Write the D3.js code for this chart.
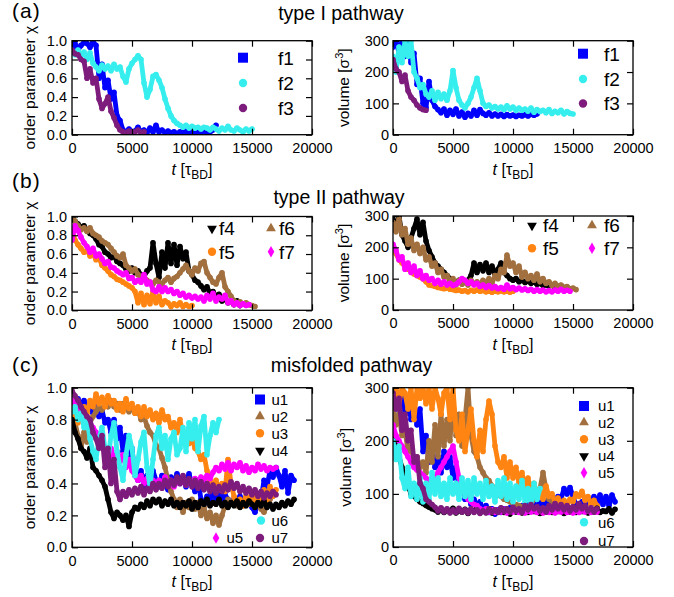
<!DOCTYPE html>
<html>
<head>
<meta charset="utf-8">
<script src="https://cdn.jsdelivr.net/npm/d3@7"></script>
<style>
body { margin: 0; background: #fff; }
text { font-family: "Liberation Sans", Arial, Helvetica, sans-serif; fill: #000; }
</style>
</head>
<body>
<svg id="fig" width="674" height="597"></svg>
<script>
// time between two stored samples, in tau_BD
const STEP = 250;
const xTicks = [0, 5000, 10000, 15000, 20000];
const chiTicks = [0, 0.2, 0.4, 0.6, 0.8, 1.0];
const volTicks = [0, 100, 200, 300];

// (a) type I pathway
const f1Chi = [0.92,0.97,0.9,0.95,0.98,0.97,0.93,0.99,0.95,0.6,
  0.75,0.5,0.58,0.38,0.45,0.2,0.15,0.05,0.03,0.06,
  0.02,0.04,0.08,0.03,0.05,0.02,0.07,0.03,0.1,0.03,
  0.05,0.02,0.04,0.02,0.03,0.01,0.03,0.02,0.04,0.02,
  0.03,0.01,0.03,0.02,0.04,0.02,0.03,0.05,0.1];
const f2Chi = [0.88,0.85,0.9,0.84,0.88,0.8,0.87,0.76,0.72,0.68,
  0.74,0.7,0.73,0.68,0.75,0.7,0.72,0.62,0.56,0.7,
  0.76,0.8,0.84,0.8,0.55,0.4,0.48,0.62,0.64,0.58,
  0.5,0.38,0.28,0.2,0.15,0.12,0.1,0.08,0.1,0.07,
  0.09,0.07,0.08,0.06,0.08,0.07,0.05,0.08,0.06,0.04,
  0.07,0.05,0.09,0.05,0.04,0.07,0.05,0.03,0.06,0.04,
  0.06];
const f3Chi = [0.9,0.86,0.85,0.8,0.78,0.6,0.7,0.55,0.6,0.38,
  0.28,0.33,0.4,0.25,0.18,0.1,0.05,0.03,0.02,0.04,
  0.02,0.03,0.05,0.02,0.03];
const f1Vol = [280,300,260,300,250,290,230,260,160,180,
  100,85,170,110,90,80,70,82,62,78,
  65,82,60,72,56,68,60,78,62,80,
  68,62,70,60,66,60,65,58,64,60,
  63,58,62,60,64,60,65,62,66];
const f2Vol = [250,200,280,230,300,250,300,200,180,150,
  160,130,120,140,110,135,115,130,110,140,
  205,150,110,95,85,100,120,150,180,140,
  100,90,95,85,90,82,88,80,92,82,
  88,78,85,78,82,75,85,72,80,74,
  78,70,80,68,75,70,78,66,74,68,
  66];
const f3Vol = [240,210,200,170,190,140,120,110,95,85,80,78];

// (b) type II pathway
const f4Chi = [1.0,0.95,0.92,0.88,0.9,0.85,0.82,0.8,0.76,0.7,
  0.68,0.62,0.6,0.56,0.58,0.52,0.5,0.48,0.44,0.42,
  0.45,0.4,0.42,0.38,0.36,0.42,0.45,0.72,0.5,0.35,
  0.62,0.45,0.72,0.5,0.7,0.48,0.68,0.55,0.62,0.42,
  0.38,0.32,0.3,0.26,0.22,0.25,0.18,0.2,0.15,0.17,
  0.1,0.12,0.08,0.1,0.06,0.1,0.05];
const f5Chi = [0.85,0.75,0.7,0.66,0.62,0.64,0.58,0.6,0.54,0.56,
  0.48,0.45,0.42,0.38,0.36,0.33,0.32,0.3,0.28,0.26,
  0.24,0.2,0.08,0.18,0.06,0.16,0.07,0.2,0.08,0.15,
  0.06,0.1,0.08,0.04,0.07,0.05,0.08,0.04,0.06,0.04,
  0.05];
const f6Chi = [1.0,0.95,0.9,0.86,0.88,0.84,0.88,0.82,0.8,0.78,
  0.74,0.72,0.7,0.66,0.62,0.58,0.56,0.6,0.48,0.45,
  0.42,0.44,0.38,0.36,0.35,0.32,0.3,0.28,0.32,0.3,
  0.28,0.32,0.35,0.3,0.34,0.36,0.4,0.44,0.48,0.42,
  0.38,0.45,0.42,0.5,0.52,0.4,0.35,0.3,0.28,0.35,
  0.4,0.25,0.2,0.15,0.1,0.08,0.09,0.07,0.08,0.06,
  0.05,0.04];
const f7Chi = [0.75,0.9,0.85,0.78,0.72,0.68,0.62,0.66,0.58,0.6,
  0.55,0.5,0.52,0.46,0.45,0.42,0.4,0.38,0.4,0.34,
  0.35,0.3,0.32,0.3,0.38,0.28,0.3,0.22,0.2,0.25,
  0.2,0.24,0.2,0.22,0.18,0.2,0.16,0.18,0.14,0.16,
  0.13,0.15,0.12,0.14,0.1,0.16,0.12,0.18,0.1,0.14,
  0.12,0.16,0.08,0.1,0.06,0.08,0.05,0.07,0.05,0.06];
const f4Vol = [290,260,300,240,220,200,230,260,290,240,
  280,220,190,170,150,140,130,120,110,100,
  90,85,95,88,90,95,110,150,120,145,
  125,150,120,140,115,130,150,120,110,100,
  95,100,90,95,88,92,85,90,82,85,
  78,80,75,80,72,75,70];
const f5Vol = [200,180,160,150,140,130,125,115,110,105,
  100,90,80,78,75,72,70,68,70,66,
  65,62,64,60,62,58,63,60,64,60,
  62,58,60,57,60,58,61,58,60,57,
  60];
const f6Vol = [280,250,290,240,260,210,230,190,210,180,
  200,160,170,140,150,120,130,105,110,90,
  100,80,95,82,90,80,95,82,90,80,
  95,85,100,85,110,100,130,120,175,140,
  150,120,140,105,120,100,110,95,115,90,
  100,85,90,78,85,75,80,72,75,68,
  70,65];
const f7Vol = [210,190,160,170,130,150,120,140,110,125,
  100,110,95,100,85,95,82,90,80,85,
  78,82,90,100,95,85,90,80,85,75,
  80,72,78,70,75,68,72,66,80,68,
  72,65,70,64,68,62,66,60,65,60,
  64,58,62,58,64,60,66,60,63,60];

// (c) misfolded pathway
const u1Chi = [0.95,0.9,0.93,0.88,0.92,0.86,0.9,0.84,0.88,0.82,
  0.86,0.78,0.8,0.72,0.8,0.68,0.75,0.6,0.7,0.52,
  0.62,0.45,0.42,0.48,0.38,0.45,0.4,0.48,0.42,0.38,
  0.45,0.4,0.36,0.44,0.4,0.46,0.4,0.44,0.38,0.46,
  0.4,0.35,0.42,0.3,0.27,0.32,0.3,0.35,0.3,0.34,
  0.29,0.33,0.3,0.27,0.3,0.28,0.32,0.27,0.3,0.28,
  0.25,0.22,0.28,0.3,0.42,0.38,0.48,0.44,0.5,0.45,
  0.38,0.48,0.34,0.45,0.42];
const u2Chi = [0.9,0.78,0.7,0.62,0.72,0.66,0.78,0.82,0.85,0.88,
  0.86,0.9,0.88,0.92,0.88,0.9,0.86,0.9,0.88,0.85,
  0.88,0.84,0.86,0.8,0.82,0.76,0.72,0.7,0.64,0.62,
  0.56,0.5,0.42,0.35,0.3,0.25,0.3,0.22,0.28,0.25,
  0.3,0.24,0.28,0.2,0.25,0.18,0.22,0.15,0.2,0.14,
  0.2,0.26,0.3,0.27,0.3,0.26,0.29,0.26,0.3,0.27,
  0.29,0.26,0.28,0.24,0.22,0.26,0.3];
const u3Chi = [0.8,0.82,0.78,0.85,0.88,0.84,0.92,0.88,0.96,0.9,
  0.94,0.88,0.95,0.9,0.92,0.86,0.9,0.85,0.93,0.87,
  0.9,0.84,0.88,0.82,0.88,0.82,0.86,0.8,0.84,0.78,
  0.86,0.8,0.82,0.75,0.78,0.72,0.8,0.7,0.72,0.65,
  0.68,0.62,0.6,0.55,0.58,0.48,0.42,0.38,0.42,0.36,
  0.4,0.35,0.55,0.4,0.32,0.28,0.3,0.26,0.32,0.28,
  0.35,0.3,0.33,0.28,0.36,0.3,0.38,0.32,0.36];
const u4Chi = [0.8,0.72,0.68,0.62,0.6,0.56,0.62,0.5,0.48,0.45,
  0.42,0.38,0.3,0.22,0.18,0.22,0.2,0.17,0.2,0.13,
  0.22,0.25,0.24,0.27,0.25,0.29,0.26,0.3,0.28,0.3,
  0.26,0.29,0.27,0.3,0.26,0.28,0.25,0.28,0.26,0.29,
  0.24,0.28,0.25,0.29,0.27,0.3,0.26,0.28,0.27,0.3,
  0.26,0.28,0.25,0.28,0.26,0.29,0.25,0.28,0.26,0.29,
  0.27,0.25,0.28,0.26,0.29,0.25,0.27,0.24,0.27,0.25,
  0.28,0.26,0.29,0.27,0.3];
const u5Chi = [0.95,0.9,0.88,0.85,0.82,0.8,0.78,0.75,0.72,0.7,
  0.65,0.6,0.58,0.62,0.56,0.6,0.54,0.58,0.5,0.55,
  0.48,0.45,0.42,0.45,0.4,0.43,0.4,0.42,0.38,0.42,
  0.4,0.44,0.4,0.42,0.38,0.41,0.4,0.43,0.39,0.42,
  0.4,0.43,0.4,0.44,0.42,0.45,0.43,0.47,0.5,0.48,
  0.52,0.49,0.53,0.48,0.52,0.5,0.53,0.48,0.51,0.47,
  0.5,0.48,0.52,0.49,0.51,0.48,0.5,0.49,0.5];
const u6Chi = [0.85,0.88,0.8,0.84,0.75,0.8,0.68,0.6,0.55,0.68,
  0.75,0.62,0.55,0.7,0.78,0.6,0.5,0.42,0.58,0.7,
  0.62,0.45,0.55,0.66,0.72,0.5,0.38,0.55,0.7,0.75,
  0.62,0.7,0.55,0.68,0.72,0.58,0.62,0.75,0.6,0.78,
  0.68,0.8,0.6,0.76,0.82,0.58,0.7,0.78,0.72,0.8];
const u7Chi = [0.98,0.95,0.92,0.88,0.85,0.82,0.8,0.72,0.68,0.62,
  0.7,0.5,0.62,0.4,0.55,0.35,0.3,0.35,0.32,0.36,
  0.33,0.37,0.34,0.38,0.33,0.37,0.35,0.4,0.36,0.4,
  0.37,0.42,0.38,0.42,0.39,0.44,0.4,0.45,0.39,0.43,
  0.38,0.42,0.37,0.41,0.36,0.4,0.35,0.39,0.34,0.38,
  0.35,0.39,0.36,0.41,0.37,0.4,0.35,0.38,0.34,0.37,
  0.33,0.36,0.32,0.35,0.31,0.34,0.32,0.35,0.33];
const u1Vol = [240,280,260,290,250,280,240,270,230,260,
  180,210,160,190,150,170,140,180,150,170,
  130,150,110,120,90,100,80,90,75,85,
  70,78,65,72,62,70,65,72,66,74,
  68,75,70,78,72,80,74,82,75,84,
  78,86,80,90,82,95,90,110,100,112,
  95,80,72,85,78,92,80,95,82,98,
  80,95,78,98,85];
const u2Vol = [260,230,250,210,220,180,190,160,170,150,
  160,140,200,160,230,170,250,190,240,200,
  280,210,250,190,240,300,210,180,170,150,
  140,130,125,115,110,100,95,90,88,85,
  82,80,78,76,75,74,80,90,100,110,
  140,110,90,85,80,78,75,74,72,74,
  70,72,70,68,70,68,70];
const u3Vol = [280,300,270,300,290,260,300,240,300,280,
  300,270,300,260,300,280,250,290,300,240,
  300,220,200,250,180,220,260,200,170,220,
  180,240,275,250,190,160,150,170,130,160,
  130,150,120,140,110,130,105,120,95,110,
  90,115,95,100,85,92,80,88,78,90,
  85,100,95,105,88,95,80,88,78];
const u4Vol = [220,190,170,150,130,115,100,95,90,85,
  82,78,75,72,70,66,72,65,70,67,
  73,64,69,66,71,63,70,67,74,65,
  69,66,72,64,68,67,73,65,70,62,
  71,66,69,64,73,65,70,67,72,63,
  69,66,74,65,68,67,71,63,70,66,
  73,65,69,67,72,64,70,66,73,65,
  68,67,72,64,71];
const u5Vol = [230,210,200,190,180,170,160,150,145,140,
  135,130,125,120,130,140,150,160,170,180,
  190,160,130,110,100,90,85,80,78,72,
  68,72,66,70,65,69,66,71,64,68,
  66,70,65,68,64,69,66,70,65,68,
  64,67,65,69,64,68,66,70,65,67,
  64,68,65,69,66,68,65,67,66];
const u6Vol = [200,165,190,130,110,150,95,120,90,130,
  85,120,90,140,100,130,95,120,90,130,
  100,120,90,130,95,125,90,130,100,120,
  90,125,95,115,85,125,95,130,90,120,
  85,115,90,125,85,110,80,120,90,110];
const u7Vol = [290,260,280,220,250,200,220,160,170,120,
  110,90,85,80,75,68,74,66,72,64,
  70,65,73,66,70,64,72,65,70,63,
  68,64,72,66,70,65,74,67,72,66,
  75,68,72,65,78,70,80,72,76,68,
  74,66,78,70,82,72,80,70,78,68,
  76,70,82,72,78,68,74,66,72];

const C = {
  blue: "#0000ff", cyan: "#36eeee", purple: "#7d1c7d",
  black: "#000000", orange: "#ff8412", brown: "#a2703f", magenta: "#ff00ff"
};

const svg = d3.select("#fig");

const symbolOf = {
  square: d3.symbol().type(d3.symbolSquare).size(100),
  circle: d3.symbol().type(d3.symbolCircle).size(55),
  up: d3.symbol().type(d3.symbolTriangle).size(42),
  down: d3.symbol().type(d3.symbolTriangle).size(42),
  diamond: d3.symbol().type(d3.symbolDiamond).size(38)
};

function drawPanel(p, idx) {
  const x = d3.scaleLinear().domain([0, 20000]).range([p.left, p.left + 240]);
  const y = d3.scaleLinear().domain(p.vol ? [0, 300] : [0, 1]).range([p.bottom, p.top]);

  svg.append("clipPath").attr("id", "clip" + idx)
    .append("rect")
    .attr("x", p.left).attr("y", p.top)
    .attr("width", 240).attr("height", p.bottom - p.top);

  const plot = svg.append("g").attr("clip-path", `url(#clip${idx})`);
  const line = d3.line().x((d, i) => x(i * STEP)).y(d => y(d));
  p.series.forEach(s => {
    plot.append("path")
      .datum(s.vals)
      .attr("d", line)
      .attr("fill", "none")
      .attr("stroke", s.color)
      .attr("stroke-width", 4.8)
      .attr("stroke-linejoin", "round")
      .attr("stroke-linecap", "round");
    // sample dots give the band its speckled edge
    plot.append("g").selectAll("circle")
      .data(s.vals)
      .join("circle")
      .attr("cx", (d, i) => x(i * STEP))
      .attr("cy", d => y(d))
      .attr("r", 2.8)
      .attr("fill", s.color);
  });

  const yTicks = p.vol ? volTicks : chiTicks;
  const yFmt = p.vol ? d3.format("d") : d3.format(".1f");

  const ax = svg.append("g").attr("transform", `translate(0,${p.bottom})`)
    .call(d3.axisBottom(x).tickValues(xTicks).tickSizeInner(-6).tickSizeOuter(0).tickPadding(8).tickFormat(d3.format("d")));
  const axTop = svg.append("g").attr("transform", `translate(0,${p.top})`)
    .call(d3.axisTop(x).tickValues(xTicks).tickSizeInner(-6).tickSizeOuter(0).tickFormat(""));
  const ay = svg.append("g").attr("transform", `translate(${p.left},0)`)
    .call(d3.axisLeft(y).tickValues(yTicks).tickSizeInner(-6).tickSizeOuter(0).tickPadding(p.vol ? 4 : 5).tickFormat(yFmt));
  const ayR = svg.append("g").attr("transform", `translate(${p.left + 240},0)`)
    .call(d3.axisRight(y).tickValues(yTicks).tickSizeInner(-6).tickSizeOuter(0).tickFormat(""));

  [ax, axTop, ay, ayR].forEach(g => {
    g.select(".domain").remove();
    g.selectAll(".tick line").attr("stroke", "#000").attr("stroke-width", 1.2);
    g.selectAll(".tick text").attr("font-size", 14.5).attr("font-family", null).attr("fill", "#000");
  });

  svg.append("rect")
    .attr("x", p.left).attr("y", p.top)
    .attr("width", 240).attr("height", p.bottom - p.top)
    .attr("fill", "none").attr("stroke", "#000").attr("stroke-width", 1.3);

  // x axis title
  const xt = svg.append("text")
    .attr("x", p.left + 120).attr("y", p.bottom + 40)
    .attr("text-anchor", "middle").attr("font-size", 16);
  xt.append("tspan").attr("font-style", "italic").text("t");
  xt.append("tspan").text(" [τ");
  xt.append("tspan").attr("font-size", 12).attr("dy", 4).text("BD");
  xt.append("tspan").attr("dy", -4).text("]");

  // y axis title
  const yt = svg.append("text")
    .attr("transform", `translate(${p.ytx},${(p.top + p.bottom) / 2}) rotate(-90)`)
    .attr("text-anchor", "middle").attr("font-size", 15.5);
  if (p.vol) {
    yt.append("tspan").text("volume [σ");
    yt.append("tspan").attr("font-size", 11).attr("dy", -6).text("3");
    yt.append("tspan").attr("dy", 6).text("]");
  } else {
    yt.text("order parameter χ");
  }

  // key
  p.legend.forEach(k => {
    const s = p.series.find(d => d.name === k.name);
    svg.append("path")
      .attr("d", symbolOf[s.shape]())
      .attr("transform", `translate(${k.mx},${k.my})` + (s.shape === "down" ? " rotate(180)" : ""))
      .attr("fill", s.color);
    svg.append("text")
      .attr("x", k.tx).attr("y", k.my).attr("dy", "0.36em")
      .attr("font-size", p.keySize)
      .text(k.name);
  });
}

const panels = [
  { left: 72, top: 40.7, bottom: 134.7, vol: false, ytx: 35, keySize: 19,
    series: [
      { name: "f1", vals: f1Chi, color: C.blue, shape: "square" },
      { name: "f2", vals: f2Chi, color: C.cyan, shape: "circle" },
      { name: "f3", vals: f3Chi, color: C.purple, shape: "circle" }],
    legend: [
      { name: "f1", mx: 243, my: 57.7, tx: 278 },
      { name: "f2", mx: 243, my: 83, tx: 278 },
      { name: "f3", mx: 243, my: 108, tx: 278 }] },
  { left: 393, top: 40.7, bottom: 134.7, vol: true, ytx: 349, keySize: 19,
    series: [
      { name: "f1", vals: f1Vol, color: C.blue, shape: "square" },
      { name: "f2", vals: f2Vol, color: C.cyan, shape: "circle" },
      { name: "f3", vals: f3Vol, color: C.purple, shape: "circle" }],
    legend: [
      { name: "f1", mx: 583, my: 53.7, tx: 604 },
      { name: "f2", mx: 583, my: 79, tx: 604 },
      { name: "f3", mx: 583, my: 103.5, tx: 604 }] },
  { left: 72, top: 216.5, bottom: 310.3, vol: false, ytx: 35, keySize: 19,
    series: [
      { name: "f4", vals: f4Chi, color: C.black, shape: "down" },
      { name: "f5", vals: f5Chi, color: C.orange, shape: "circle" },
      { name: "f6", vals: f6Chi, color: C.brown, shape: "up" },
      { name: "f7", vals: f7Chi, color: C.magenta, shape: "diamond" }],
    legend: [
      { name: "f4", mx: 212, my: 228.5, tx: 219 },
      { name: "f5", mx: 212, my: 251.7, tx: 219 },
      { name: "f6", mx: 271, my: 228.5, tx: 279 },
      { name: "f7", mx: 271, my: 251.7, tx: 279 }] },
  { left: 393, top: 216, bottom: 310, vol: true, ytx: 349, keySize: 19,
    series: [
      { name: "f4", vals: f4Vol, color: C.black, shape: "down" },
      { name: "f5", vals: f5Vol, color: C.orange, shape: "circle" },
      { name: "f6", vals: f6Vol, color: C.brown, shape: "up" },
      { name: "f7", vals: f7Vol, color: C.magenta, shape: "diamond" }],
    legend: [
      { name: "f4", mx: 532, my: 225.5, tx: 543 },
      { name: "f5", mx: 532, my: 248.3, tx: 543 },
      { name: "f6", mx: 592, my: 225.5, tx: 604 },
      { name: "f7", mx: 592, my: 248.3, tx: 604 }] },
  { left: 72, top: 387.7, bottom: 547.3, vol: false, ytx: 35, keySize: 15,
    series: [
      { name: "u1", vals: u1Chi, color: C.blue, shape: "square" },
      { name: "u2", vals: u2Chi, color: C.brown, shape: "up" },
      { name: "u3", vals: u3Chi, color: C.orange, shape: "circle" },
      { name: "u4", vals: u4Chi, color: C.black, shape: "down" },
      { name: "u5", vals: u5Chi, color: C.magenta, shape: "diamond" },
      { name: "u6", vals: u6Chi, color: C.cyan, shape: "circle" },
      { name: "u7", vals: u7Chi, color: C.purple, shape: "circle" }],
    legend: [
      { name: "u1", mx: 260, my: 399.5, tx: 271.5 },
      { name: "u2", mx: 260, my: 416.3, tx: 271.5 },
      { name: "u3", mx: 260, my: 433.3, tx: 271.5 },
      { name: "u4", mx: 260, my: 450.5, tx: 271.5 },
      { name: "u6", mx: 261, my: 520.5, tx: 271.5 },
      { name: "u5", mx: 216, my: 538, tx: 226.5 },
      { name: "u7", mx: 260, my: 538, tx: 271.5 }] },
  { left: 393, top: 387.7, bottom: 547, vol: true, ytx: 351, keySize: 15,
    series: [
      { name: "u1", vals: u1Vol, color: C.blue, shape: "square" },
      { name: "u2", vals: u2Vol, color: C.brown, shape: "up" },
      { name: "u3", vals: u3Vol, color: C.orange, shape: "circle" },
      { name: "u4", vals: u4Vol, color: C.black, shape: "down" },
      { name: "u5", vals: u5Vol, color: C.magenta, shape: "diamond" },
      { name: "u6", vals: u6Vol, color: C.cyan, shape: "circle" },
      { name: "u7", vals: u7Vol, color: C.purple, shape: "circle" }],
    legend: [
      { name: "u1", mx: 584, my: 406, tx: 598 },
      { name: "u2", mx: 584, my: 422.5, tx: 598 },
      { name: "u3", mx: 584, my: 439.3, tx: 598 },
      { name: "u4", mx: 584, my: 456, tx: 598 },
      { name: "u5", mx: 584, my: 472.7, tx: 598 },
      { name: "u6", mx: 584, my: 522.3, tx: 598 },
      { name: "u7", mx: 584, my: 541, tx: 598 }] }
];

panels.forEach(drawPanel);

// panel letters and titles
const heads = [
  { tag: "(a)", title: "type I pathway", y: 17.5, ty: 19.5, cx: 341 },
  { tag: "(b)", title: "type II pathway", y: 187.5, ty: 203.5, cx: 339 },
  { tag: "(c)", title: "misfolded pathway", y: 371.5, ty: 372, cx: 351.5 }
];
heads.forEach(h => {
  svg.append("text").attr("x", 12).attr("y", h.y).attr("font-size", 21).attr("letter-spacing", 1).text(h.tag);
  svg.append("text").attr("x", h.cx).attr("y", h.ty).attr("text-anchor", "middle").attr("font-size", 19.5).text(h.title);
});
</script>
</body>
</html>
